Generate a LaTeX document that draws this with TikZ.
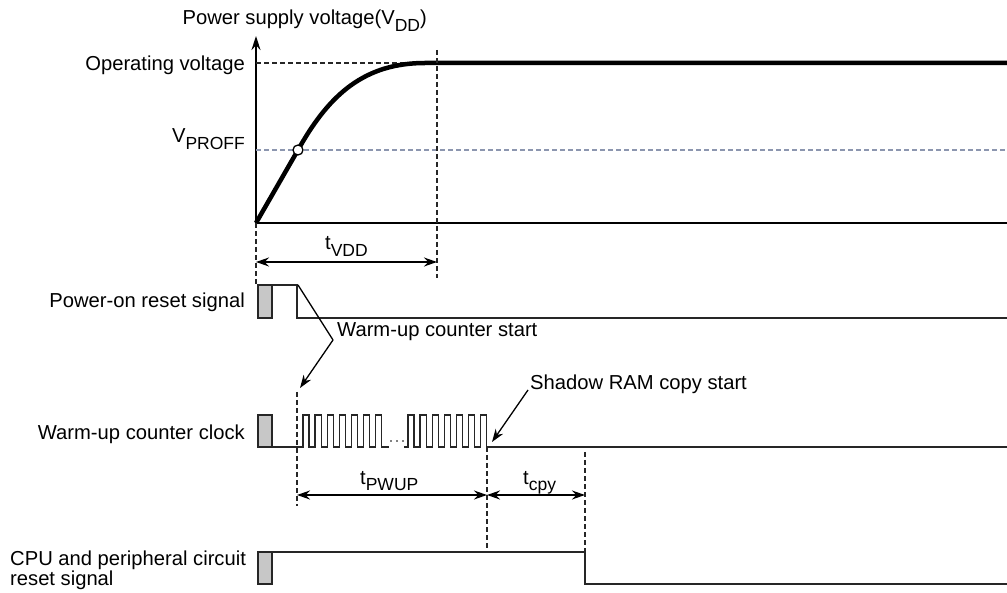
\documentclass[tikz,border=0pt]{standalone}
\usepackage{fontspec}
\setmainfont{Liberation Sans}
\usetikzlibrary{arrows.meta}
\newcommand\lsub[1]{\raisebox{-0.3em}{\fontsize{17.5}{17.5}\selectfont #1}}
\definecolor{proff}{RGB}{140,150,175}
\begin{document}
\begin{tikzpicture}[x=1pt,y=-1pt,
  lbl/.style={inner sep=0pt, font=\fontsize{20.2}{19}\selectfont},
  sig/.style={line width=1.3pt, black!85},
  gbox/.style={draw=black!85, fill=black!22, line width=1.3pt},
  vdash/.style={line width=1.3pt, dash pattern=on 5pt off 3pt, black!85},
  dim/.style={line width=1.3pt, {Stealth[length=13pt,width=9pt]}-{Stealth[length=13pt,width=9pt]}},
  callout/.style={line width=1.3pt},
  calloutarrow/.style={line width=1.3pt, -{Stealth[length=13pt,width=9pt]}}
]
\useasboundingbox (0,0) rectangle (1007,593);

% ---- axes ----
\coordinate (O) at (256,223);
\coordinate (Ytop) at (256,36);
\coordinate (Xend) at (1007,223);
\draw[line width=1.5pt, -{Stealth[length=14pt,width=9pt]}] (O) -- (Ytop);
\draw[line width=1.5pt] (O) -- (Xend);

% ---- reference levels ----
\coordinate (OpL) at (256,63);
\coordinate (OpR) at (437,63);
\coordinate (PrL) at (256,150);
\coordinate (PrR) at (1007,150);
\draw[vdash] (OpL) -- (OpR);
\draw[line width=1.5pt, dash pattern=on 5pt off 3pt, proff] (PrL) -- (PrR);

% ---- supply curve ----
\coordinate (Cx) at (298,150);
\draw[line width=4.5pt, line join=round] (O) -- (300,146.5) .. controls (330,94) and (365,63) .. (425,63) -- (1007,63);
\node[circle, draw, fill=white, line width=1.3pt, minimum size=10pt, inner sep=0pt] (cross) at (Cx) {};

% ---- labels of axis ----
\node[lbl, anchor=base east] (psv) at (427,25) {Power supply voltage(V\lsub{DD})};
\node[lbl, anchor=base east] (op) at (245,71) {Operating voltage};
\node[lbl, anchor=base east] (vproff) at (245,143) {V\lsub{PROFF}};

% ---- dashed verticals ----
\coordinate (d1a) at (256,223); \coordinate (d1b) at (256,285);
\coordinate (d2a) at (437,50);  \coordinate (d2b) at (437,278);
\coordinate (d3a) at (297,392); \coordinate (d3b) at (297,506);
\coordinate (d4a) at (487,447); \coordinate (d4b) at (487,551);
\coordinate (d5a) at (585,452); \coordinate (d5b) at (585,551);
\draw[vdash] (d1a) -- (d1b);
\draw[vdash] (d2a) -- (d2b);
\draw[vdash] (d3a) -- (d3b);
\draw[vdash] (d4a) -- (d4b);
\draw[vdash] (d5a) -- (d5b);

% ---- tVDD ----
\coordinate (tv1) at (256,262); \coordinate (tv2) at (437,262);
\draw[dim] (tv1) -- (tv2);
\node[lbl, anchor=base west] (tvdd) at (325,250) {t\lsub{VDD}};

% ---- power-on reset signal ----
\node[lbl, anchor=base east] (por) at (245,308) {Power-on reset signal};
\draw[gbox] (258,285) rectangle (272,318);
\draw[sig] (272,285) -- (297,285) -- (297,318) -- (1007,318);

% ---- warm-up counter start callout ----
\coordinate (ws1) at (298,285);
\coordinate (ws2) at (333,340);
\coordinate (ws3) at (300,388);
\draw[callout] (ws1) -- (ws2);
\draw[calloutarrow] (ws2) -- (ws3);
\node[lbl, anchor=base west] (wcs) at (337,337) {Warm-up counter start};

% ---- warm-up counter clock ----
\node[lbl, anchor=base east] (wcc) at (245,440) {Warm-up counter clock};
\draw[gbox] (258,415) rectangle (272,447);
\draw[sig, line join=miter] (272,447) -- (303,447)
  \foreach \i in {0,...,6} { -- ++(0,-32) -- ++(6.05,0) -- ++(0,32) -- ++(6.05,0) } -- (389,447);
\foreach \dx in {391,397,403} \fill (\dx,441) circle (0.9pt);
\draw[sig, line join=miter] (404,447) -- (408,447)
  \foreach \i in {0,...,6} { -- ++(0,-32) -- ++(6.05,0) -- ++(0,32) -- ++(6.05,0) } -- (1007,447);

% ---- shadow RAM callout ----
\coordinate (sr1) at (528,390);
\coordinate (sr2) at (492,442);
\draw[calloutarrow] (sr1) -- (sr2);
\node[lbl, anchor=base west] (srs) at (530,390) {Shadow RAM copy start};

% ---- tPWUP / tcpy ----
\coordinate (tp1) at (297,495); \coordinate (tp2) at (487,495); \coordinate (tp3) at (585,495);
\draw[dim] (tp1) -- (tp2);
\draw[dim] (tp2) -- (tp3);
\node[lbl, anchor=base west] (tpwup) at (360,484) {t\lsub{PWUP}};
\node[lbl, anchor=base west] (tcpy) at (523,484) {t\lsub{cpy}};

% ---- CPU reset signal ----
\node[lbl, anchor=base west] (cpu1) at (10,565) {CPU and peripheral circuit};
\node[lbl, anchor=base west] (cpu2) at (10,585) {reset signal};
\draw[gbox] (258,552) rectangle (272,584);
\draw[sig] (272,552) -- (585,552) -- (585,584) -- (1007,584);
\end{tikzpicture}
\end{document}
